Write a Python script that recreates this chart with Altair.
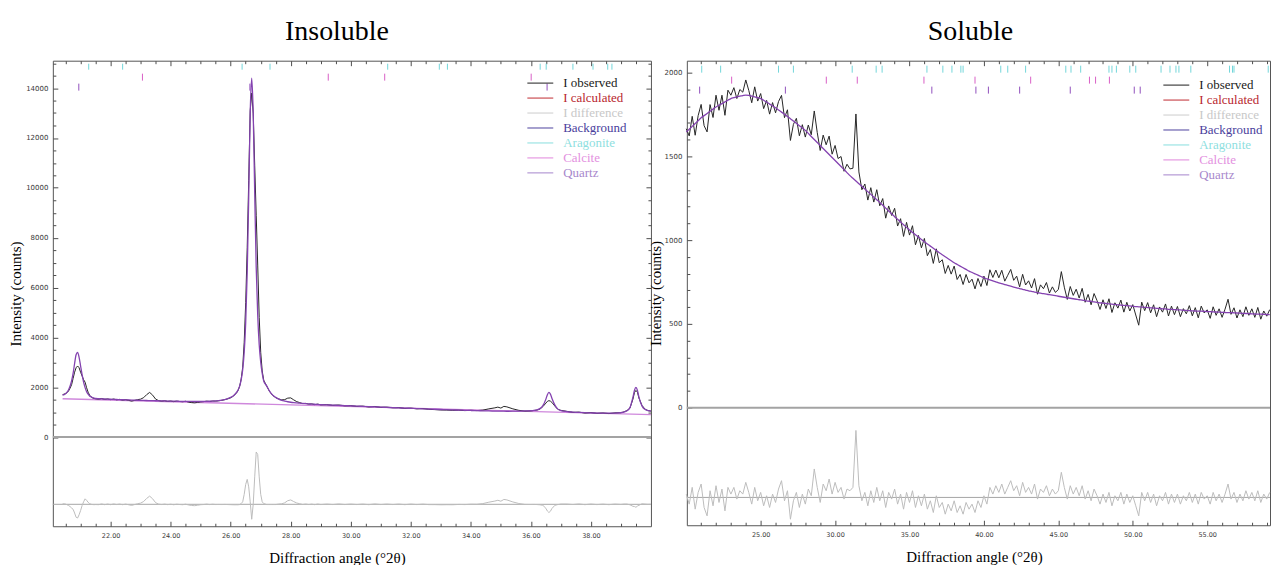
import altair as alt
import numpy as np
import pandas as pd

# ---------------- Insoluble fraction (20-40 deg 2-theta) ----------------
ins_angle = [
    20.40, 20.45, 20.50, 20.55, 20.60, 20.65, 20.70, 20.75, 20.80, 20.85,
    20.90, 20.95, 21.00, 21.05, 21.10, 21.15, 21.20, 21.25, 21.30, 21.35,
    21.40, 21.45, 21.50,
    21.6, 21.7, 21.8, 21.9, 22.0, 22.1, 22.2, 22.3, 22.4, 22.5,
    22.6, 22.7, 22.8, 22.9, 23.0, 23.1, 23.2, 23.3, 23.4, 23.5,
    23.6, 23.7, 23.8, 23.9, 24.0, 24.1, 24.2, 24.3, 24.4, 24.5,
    24.6, 24.7, 24.8, 24.9, 25.0, 25.1, 25.2, 25.3, 25.4, 25.5,
    25.6, 25.7, 25.8, 25.9, 26.0, 26.1, 26.2,
    26.25, 26.30, 26.35, 26.40, 26.45, 26.50, 26.55, 26.60, 26.65, 26.70,
    26.75, 26.80, 26.85, 26.90, 26.95, 27.00, 27.05, 27.10,
    27.2, 27.3, 27.4, 27.5, 27.6, 27.7, 27.8, 27.9, 28.0, 28.1,
    28.2, 28.3, 28.4, 28.5, 28.6, 28.7, 28.8, 28.9, 29.0,
    29.2, 29.4, 29.6, 29.8, 30.0, 30.2, 30.4, 30.6, 30.8, 31.0,
    31.2, 31.4, 31.6, 31.8, 32.0, 32.2, 32.4, 32.6, 32.8, 33.0,
    33.2, 33.4, 33.6, 33.8, 34.0,
    34.2, 34.4, 34.6, 34.8, 34.9, 35.0, 35.1, 35.2, 35.4, 35.6,
    35.8, 36.0, 36.1, 36.2, 36.3, 36.4, 36.5, 36.55, 36.6, 36.65,
    36.7, 36.8, 36.9, 37.0,
    37.2, 37.4, 37.6, 37.8, 38.0, 38.2, 38.4, 38.6, 38.8, 39.0,
    39.1, 39.2, 39.3, 39.4, 39.45, 39.5, 39.55, 39.6, 39.7, 39.8,
    39.9, 40.0,
]
ins_observed = [
    1700, 1720, 1750, 1780, 1850, 1960, 2100, 2350, 2600, 2780,
    2850, 2780, 2600, 2450, 2300, 2200, 1980, 1800, 1680, 1610,
    1570, 1545, 1535,
    1520, 1545, 1510, 1530, 1500, 1525, 1495, 1510, 1480, 1500,
    1470, 1440, 1470, 1500, 1520, 1580, 1700, 1790, 1680, 1520,
    1460, 1440, 1455, 1430, 1445, 1420, 1440, 1425, 1415, 1435,
    1400, 1380, 1370, 1390, 1410, 1420, 1440, 1425, 1445, 1440,
    1455, 1470, 1500, 1530, 1575, 1650, 1780,
    1880, 2040, 2330, 2800, 3800, 5400, 7600, 10300, 13100, 13800,
    13000, 10900, 8900, 6900, 4800, 3400, 2650, 2280,
    2040, 1820, 1670, 1580, 1530, 1490, 1500, 1560, 1570, 1490,
    1420, 1380, 1340, 1350, 1320, 1330, 1300, 1320, 1290,
    1300, 1270, 1285, 1250, 1260, 1230, 1240, 1205, 1225, 1190,
    1200, 1170, 1180, 1145, 1160, 1130, 1140, 1110, 1100, 1085,
    1080, 1070, 1075, 1060, 1070,
    1060, 1080, 1130, 1170, 1200, 1160, 1230, 1210, 1130, 1070,
    1040, 1050, 1065, 1080, 1120, 1220, 1360, 1430, 1460, 1440,
    1390, 1240, 1110, 1070,
    1030, 990, 1000, 960, 980, 950, 965, 940, 970, 975,
    1010, 1060, 1160, 1520, 1780, 1870, 1800, 1560, 1270, 1120,
    1060, 1040,
]
ins_calculated = [
    1680, 1700, 1740, 1800, 1900, 2050, 2250, 2550, 2950, 3300,
    3400, 3200, 2850, 2500, 2200, 1980, 1820, 1720, 1650, 1610,
    1580, 1560, 1545,
    1535, 1530, 1525, 1520, 1515, 1510, 1505, 1500, 1496, 1492,
    1488, 1484, 1480, 1476, 1472, 1468, 1465, 1462, 1459, 1456,
    1453, 1450, 1447, 1444, 1441, 1438, 1436, 1434, 1432, 1430,
    1428, 1427, 1426, 1426, 1427, 1429, 1432, 1436, 1442, 1450,
    1462, 1480, 1505, 1540, 1590, 1670, 1800,
    1900, 2050, 2300, 2700, 3400, 4600, 6600, 9600, 13000, 14400,
    13000, 9800, 6800, 4900, 3700, 3000, 2550, 2250,
    2050, 1830, 1680, 1590, 1520, 1470, 1440, 1415, 1395, 1380,
    1368, 1357, 1347, 1338, 1330, 1322, 1315, 1308, 1301,
    1290, 1280, 1270, 1260, 1250, 1240, 1230, 1220, 1210, 1200,
    1190, 1180, 1170, 1160, 1150, 1141, 1132, 1123, 1114, 1105,
    1096, 1088, 1080, 1072, 1065,
    1058, 1051, 1045, 1040, 1038, 1036, 1035, 1034, 1035, 1038,
    1045, 1058, 1070, 1090, 1140, 1260, 1520, 1700, 1790, 1720,
    1560, 1280, 1120, 1060,
    1020, 1000, 985, 975, 968, 962, 957, 955, 960, 980,
    1000, 1050, 1180, 1600, 1870, 1990, 1870, 1600, 1250, 1110,
    1060, 1035,
]
ins_bg_angle = [20.4, 40.0]
ins_background = [1535, 895]
ins_diff_offset = -2700

ins_aragonite = [21.27, 22.40, 26.38, 27.31, 31.23, 32.95, 33.22, 36.31, 36.51,
                 37.40, 38.07, 38.56, 38.70]
ins_calcite = [23.06, 29.25, 31.13, 36.01]
ins_quartz = [20.94, 26.64, 36.54]

# ---------------- Soluble fraction (20-59.2 deg 2-theta, 0.2 deg steps) ----------------
sol_angle = np.round(20.0 + 0.2 * np.arange(197), 1)
sol_observed = [
    1665, 1622, 1739, 1626, 1743, 1810, 1683, 1646, 1809, 1732,
    1865, 1775, 1865, 1745, 1895, 1865, 1910, 1845, 1899, 1883,
    1956, 1894, 1820, 1915, 1830, 1875, 1785, 1834, 1752, 1821,
    1760, 1827, 1864, 1731, 1778, 1595, 1691, 1727, 1623, 1689,
    1615, 1687, 1629, 1771, 1643, 1535, 1627, 1569, 1621, 1513,
    1565, 1487, 1499, 1411, 1453, 1425, 1429, 1753, 1407, 1301,
    1335, 1239, 1313, 1227, 1301, 1205, 1248, 1131, 1204, 1147,
    1190, 1084, 1128, 1022, 1106, 1030, 1086, 972, 1028, 954,
    1010, 907, 944, 861, 948, 865, 883, 801, 849, 797,
    845, 765, 795, 735, 795, 745, 767, 709, 771, 723,
    785, 729, 823, 777, 821, 775, 820, 755, 790, 825,
    760, 785, 721, 796, 732, 757, 714, 770, 677, 733,
    710, 747, 684, 721, 688, 705, 812, 719, 646, 723,
    670, 707, 654, 712, 629, 676, 614, 681, 639, 586,
    644, 592, 650, 568, 626, 594, 642, 570, 629, 577,
    615, 553, 492, 630, 579, 627, 566, 614, 543, 601,
    570, 619, 547, 606, 555, 604, 543, 591, 560, 609,
    548, 597, 536, 606, 565, 584, 533, 602, 551, 590,
    539, 588, 647, 557, 596, 535, 584, 543, 602, 551,
    590, 539, 598, 528, 577, 546, 585,
]
sol_calculated = [
    1645, 1662, 1679, 1696, 1713, 1730, 1743, 1756, 1769, 1782,
    1795, 1805, 1815, 1825, 1835, 1845, 1850, 1855, 1859, 1863,
    1866, 1864, 1860, 1855, 1850, 1845, 1835, 1824, 1812, 1801,
    1790, 1777, 1764, 1751, 1738, 1725, 1711, 1697, 1683, 1669,
    1655, 1637, 1619, 1601, 1583, 1565, 1547, 1529, 1511, 1493,
    1475, 1457, 1439, 1421, 1403, 1385, 1369, 1353, 1337, 1321,
    1305, 1289, 1273, 1257, 1241, 1225, 1208, 1191, 1174, 1157,
    1140, 1124, 1108, 1092, 1076, 1060, 1046, 1032, 1018, 1004,
    990, 977, 964, 951, 938, 925, 913, 901, 889, 877,
    865, 855, 845, 835, 825, 815, 807, 799, 791, 783,
    775, 769, 763, 757, 751, 745, 740, 735, 730, 725,
    720, 715, 711, 706, 702, 697, 694, 690, 687, 683,
    680, 677, 674, 671, 668, 665, 662, 659, 656, 653,
    650, 647, 644, 642, 639, 636, 634, 631, 629, 626,
    624, 622, 620, 618, 616, 614, 612, 610, 609, 607,
    605, 603, 602, 600, 599, 597, 596, 594, 593, 591,
    590, 589, 587, 586, 585, 584, 583, 581, 580, 579,
    578, 577, 576, 576, 575, 574, 573, 572, 571, 570,
    569, 568, 567, 567, 566, 565, 564, 563, 562, 561,
    560, 559, 558, 558, 557, 556, 555,
]
sol_diff_offset = -536

sol_aragonite = [21.04, 22.31, 26.20, 27.20, 31.15, 32.76, 33.16, 36.17, 37.24, 37.85,
                 38.45, 38.60, 41.13, 41.60, 42.80, 45.50, 45.85, 46.50, 48.40, 48.60,
                 48.90, 49.80, 50.20, 51.90, 52.50, 52.90, 53.10, 53.90, 56.50, 56.70,
                 56.80, 59.10]
sol_calcite = [23.05, 29.41, 31.49, 35.97, 39.40, 43.14, 47.09, 47.50, 48.43]
sol_quartz = [20.90, 26.66, 36.50, 39.46, 40.30, 42.40, 45.80, 50.10, 50.50]

# ---------------- Legend ----------------
legend_names = ["I observed", "I calculated", "I difference", "Background",
                "Aragonite", "Calcite", "Quartz"]
legend_colors = ["#1a1a1a", "#c0282e", "#cccccc", "#4b3f9e", "#86dede", "#e184dc", "#a583cc"]
legend_text_colors = ["#1a1a1a", "#b8262e", "#c8c8c8", "#4a3e9c", "#8ee0e0", "#e390e0", "#a888cc"]

OBS_COLOR = "#262626"
CALC_COLOR = "#8442b0"
BG_COLOR = "#cf88dc"
DIFF_COLOR = "#bdbdbd"
ZERO_COLOR = "#a3a3a3"
PHASE_COLORS = {"Aragonite": "#72d6da", "Calcite": "#d95fc6", "Quartz": "#9150bd"}

AXIS_GREY = "#4d4d4d"
LABEL_GREY = "#3a3a3a"
SERIF = "Liberation Serif"
SANS = "DejaVu Sans"

# horizontal key line, twice as wide as the symbol cell
KEY_LINE = "M-2,0H2"

label_color_expr = " : ".join(
    f"datum.label === '{n}' ? '{c}'" for n, c in zip(legend_names, legend_text_colors)
) + " : '#000000'"


def tick_axis(orient, values, size):
    """Tick-only axis drawn inward from the frame."""
    return alt.Axis(orient=orient, values=values, tickSize=size, offset=-size,
                    domain=False, grid=False, labels=False, title=None,
                    tickColor=AXIS_GREY, tickWidth=1)


def panel(angle, observed, calculated, diff_offset, bg_angle, bg, phases,
          x_domain, y_domain, width, height, x_major, x_minor, y_major, y_minor,
          x_title_x, y_title_pad, legend_x, legend_y, tick_rows, right_axis,
          title, title_dx):
    df = pd.DataFrame({"angle": angle, "observed": observed, "calculated": calculated})
    df["difference"] = df["observed"] - df["calculated"] + diff_offset

    xs = alt.Scale(domain=x_domain, nice=False, zero=False)
    ys = alt.Scale(domain=y_domain, nice=False, zero=False)
    base = alt.Chart(df)

    x_main = alt.Axis(
        orient="bottom", values=x_major, format=".2f", tickSize=5, offset=-5,
        domain=False, grid=False, tickColor=AXIS_GREY, labelFont=SANS,
        labelFontSize=6.5, labelColor=LABEL_GREY, labelPadding=6,
        title="Diffraction angle (°2θ)", titleFont=SERIF, titleFontSize=15,
        titleFontWeight="normal", titleColor="black", titleX=x_title_x, titlePadding=12)
    y_main = alt.Axis(
        orient="left", values=y_major, format="d", tickSize=5, offset=-5,
        domain=False, grid=False, tickColor=AXIS_GREY, labelFont=SANS,
        labelFontSize=7, labelColor=LABEL_GREY, labelPadding=5,
        title="Intensity (counts)", titleFont=SERIF, titleFontSize=15,
        titleFontWeight="normal", titleColor="black", titlePadding=y_title_pad)

    zero = alt.Chart(pd.DataFrame({"level": [0]})).mark_rule(
        color=ZERO_COLOR, strokeWidth=2).encode(
        y=alt.Y("level:Q", scale=ys,
                axis=tick_axis("right", y_minor, 3) if right_axis else None))
    baseline = alt.Chart(pd.DataFrame({"level": [diff_offset]})).mark_rule(
        color="#a6a6a6", strokeWidth=1).encode(y=alt.Y("level:Q", scale=ys, axis=None))

    diff = base.mark_line(color=DIFF_COLOR, strokeWidth=1).encode(
        x=alt.X("angle:Q", scale=xs, axis=tick_axis("bottom", x_minor, 3)),
        y=alt.Y("difference:Q", scale=ys, axis=tick_axis("left", y_minor, 3)))

    layers = [zero, baseline, diff]

    if bg_angle is not None:
        bg_line = alt.Chart(pd.DataFrame({"angle": bg_angle, "background": bg})).mark_line(
            color=BG_COLOR, strokeWidth=1.3).encode(
            x=alt.X("angle:Q", scale=xs, axis=None),
            y=alt.Y("background:Q", scale=ys, axis=None))
        layers.append(bg_line)

    obs = base.mark_line(color=OBS_COLOR, strokeWidth=1).encode(
        x=alt.X("angle:Q", scale=xs, axis=x_main),
        y=alt.Y("observed:Q", scale=ys, axis=y_main))
    calc = base.mark_line(color=CALC_COLOR, strokeWidth=1.3, interpolate="monotone").encode(
        x=alt.X("angle:Q", scale=xs, axis=tick_axis("top", x_major, 5)),
        y=alt.Y("calculated:Q", scale=ys,
                axis=tick_axis("right", y_major, 5) if right_axis else None))
    layers += [obs, calc]

    # reflection markers, one row per phase
    for i, (name, positions) in enumerate(phases):
        top, bottom = tick_rows[i]
        rug = alt.Chart(pd.DataFrame({"angle": positions})).mark_rule(
            color=PHASE_COLORS[name], strokeWidth=1).encode(
            x=alt.X("angle:Q", scale=xs,
                    axis=tick_axis("top", x_minor, 3) if i == 0 else None),
            y=alt.value(top), y2=alt.value(bottom))
        layers.append(rug)

    key = alt.Chart(pd.DataFrame({"series": legend_names})).mark_point(
        clip=True, filled=False, shape="stroke").encode(
        x=alt.value(-80), y=alt.value(-80),
        color=alt.Color(
            "series:N", sort=legend_names,
            scale=alt.Scale(domain=legend_names, range=legend_colors),
            legend=alt.Legend(
                orient="none", legendX=legend_x, legendY=legend_y, title=None,
                symbolType=KEY_LINE, symbolSize=169, symbolStrokeWidth=1.4,
                labelFont=SERIF, labelFontSize=13, labelColor={"expr": label_color_expr},
                labelOffset=15.5, rowPadding=-1.6, padding=0, labelLimit=200)))
    layers.append(key)

    return alt.layer(*layers).resolve_scale(x="shared", y="shared").resolve_axis(
        x="independent", y="independent").properties(
        width=width, height=height,
        title=alt.Title(title, font=SERIF, fontSize=28, fontWeight="normal",
                        color="black", anchor="middle", frame="group", offset=14, dx=title_dx))


ins_x_major = [22, 24, 26, 28, 30, 32, 34, 36, 38]
ins_x_minor = [v / 2 for v in range(41, 80) if v % 4 != 0]
ins_y_major = list(range(0, 15000, 2000))
ins_y_minor = [v for v in range(500, 15001, 500) if v % 2000 != 0]

sol_x_major = [25, 30, 35, 40, 45, 50, 55]
sol_x_minor = [v for v in range(21, 60) if v % 5 != 0]
sol_y_major = [0, 500, 1000, 1500, 2000]
sol_y_minor = [v for v in range(100, 2071, 100) if v % 500 != 0]

left = panel(ins_angle, ins_observed, ins_calculated, ins_diff_offset,
             ins_bg_angle, ins_background,
             [("Aragonite", ins_aragonite), ("Calcite", ins_calcite), ("Quartz", ins_quartz)],
             [20.075, 40.0], [-3580, 15100], 600, 467,
             ins_x_major, ins_x_minor, ins_y_major, ins_y_minor,
             285, 2, 481.5, 15, [(3, 9), (13, 20), (23, 30)], True,
             "Insoluble", -15)

right = panel(list(sol_angle), sol_observed, sol_calculated, sol_diff_offset,
              None, None,
              [("Aragonite", sol_aragonite), ("Calcite", sol_calcite), ("Quartz", sol_quartz)],
              [20.04, 59.22], [-702, 2071], 585, 466,
              sol_x_major, sol_x_minor, sol_y_major, sol_y_minor,
              288, 1, 483.5, 17, [(5, 12), (16, 23), (26, 33)], False,
              "Soluble", -8)

chart = alt.hconcat(left, right, spacing=36).resolve_scale(
    x="independent", y="independent", color="independent").resolve_legend(
    color="independent").properties(
    bounds="flush", padding={"left": 8, "top": 17, "right": 0, "bottom": 0}
).configure_view(stroke="#555555", strokeWidth=1)

chart.save("out.html", embed_options={"renderer": "svg", "actions": False})
